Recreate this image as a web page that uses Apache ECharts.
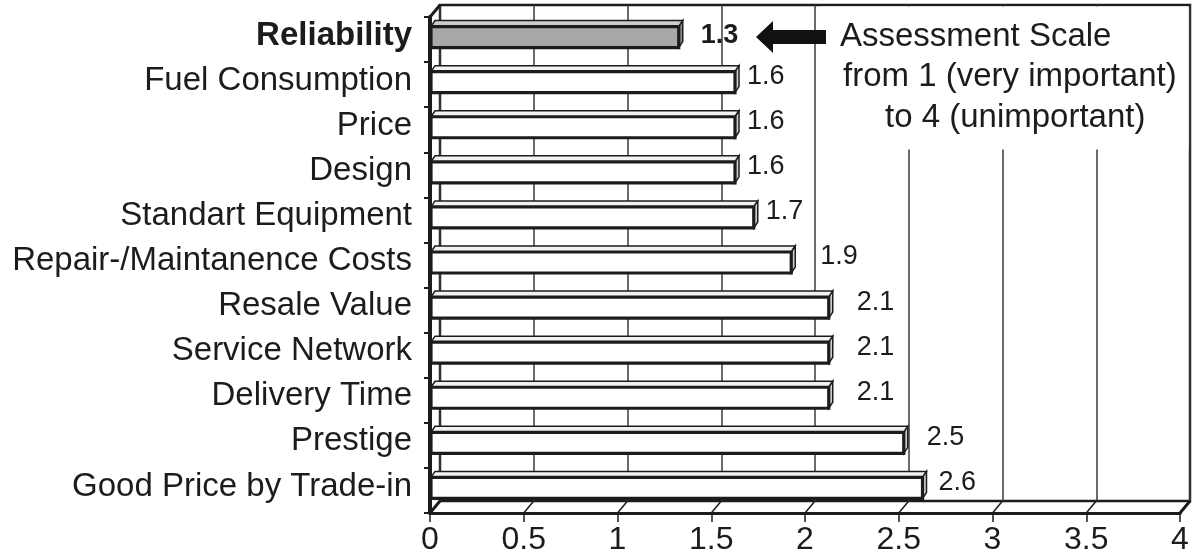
<!DOCTYPE html>
<html>
<head>
<meta charset="utf-8">
<script src="https://cdn.jsdelivr.net/npm/echarts@6/dist/echarts.min.js"></script>
<style>
  html, body { margin: 0; padding: 0; background: #ffffff; }
  #chart { width: 1192px; height: 557px; }
</style>
</head>
<body>
<div id="chart"></div>
<script>
// Purchase criteria, rated from 1 (very important) to 4 (unimportant)
const categories = [
  'Reliability', 'Fuel Consumption', 'Price', 'Design', 'Standart Equipment',
  'Repair-/Maintanence Costs', 'Resale Value', 'Service Network', 'Delivery Time',
  'Prestige', 'Good Price by Trade-in'
];
const ratings = [1.3, 1.6, 1.6, 1.6, 1.7, 1.9, 2.1, 2.1, 2.1, 2.5, 2.6];
const xTicks = [0, 0.5, 1, 1.5, 2, 2.5, 3, 3.5, 4];
const scaleNote = ['Assessment Scale', 'from 1 (very important)', 'to 4 (unimportant)'];
// extra gap between each bar's end and its value label
const labelPad = [18, 8, 8, 8, 8, 25, 24, 24, 24, 19, 12];

const FONT = '"Liberation Sans", Arial, Helvetica, sans-serif';
const INK = '#1c1c1c';
const DEPTH_X = 10, DEPTH_Y = -12;   // depth of the box (front plane -> back wall)
const BAR_DX = 4, BAR_DY = -6;       // depth of each bar
const BAR_SHIFT = 5;                 // bars sit half-way into the box
const BAR_H = 21;

const chart = echarts.init(document.getElementById('chart'), null, { renderer: 'canvas' });

function renderBar(params, api) {
  const i = params.dataIndex;
  const v = api.value(0);
  const start = api.coord([0, i]);
  const end = api.coord([v, i]);
  const yc = start[1] - 2.5;
  const top = yc - BAR_H / 2;
  const bot = yc + BAR_H / 2;
  const xl = start[0] + 1;
  const xr = end[0] + BAR_SHIFT;
  const hl = i === 0;
  const face = hl ? '#a8a8a8' : '#ffffff';
  const lid = hl ? '#cdcdcd' : '#f2f2f2';
  const side = hl ? '#8c8c8c' : '#cfcfcf';
  return {
    type: 'group',
    children: [
      {
        type: 'polygon',
        shape: { points: [[xl, top], [xr, top], [xr + BAR_DX, top + BAR_DY], [xl + BAR_DX, top + BAR_DY]] },
        style: { fill: lid, stroke: INK, lineWidth: 1.5 }
      },
      {
        type: 'polygon',
        shape: { points: [[xr, top], [xr + BAR_DX, top + BAR_DY], [xr + BAR_DX, bot + BAR_DY], [xr, bot]] },
        style: { fill: side, stroke: INK, lineWidth: 1.5 }
      },
      {
        type: 'rect',
        shape: { x: xl, y: top, width: xr - xl, height: BAR_H },
        style: { fill: face, stroke: INK, lineWidth: 3.2 }
      },
      {
        type: 'text',
        style: {
          text: v.toFixed(1),
          x: xr + BAR_DX + labelPad[i],
          y: start[1] - (hl ? 4 : 8),
          fontFamily: FONT,
          fontSize: 27,
          fontWeight: hl ? 'bold' : 'normal',
          fill: INK,
          align: 'left',
          verticalAlign: 'middle'
        }
      }
    ]
  };
}

function renderFloor(params, api) {
  const cs = params.coordSys;
  const x = api.coord([api.value(0), 0])[0];
  const yb = cs.y + cs.height;
  const last = params.dataIndex === xTicks.length - 1;
  const children = [{
    type: 'line',
    shape: { x1: x, y1: yb, x2: x + DEPTH_X, y2: yb + DEPTH_Y },
    style: { stroke: INK, lineWidth: last ? 3 : 1.5 }
  }];
  if (params.dataIndex === 0) {
    children.push({
      type: 'line',
      shape: { x1: cs.x, y1: cs.y, x2: cs.x + DEPTH_X, y2: cs.y + DEPTH_Y },
      style: { stroke: INK, lineWidth: 3 }
    });
    children.push({
      type: 'line',
      shape: { x1: cs.x, y1: yb, x2: cs.x + DEPTH_X, y2: yb + DEPTH_Y },
      style: { stroke: INK, lineWidth: 3 }
    });
  }
  return { type: 'group', children };
}

const option = {
  animation: false,
  backgroundColor: '#ffffff',
  textStyle: { fontFamily: FONT },
  grid: [
    // front plane: holds the axes and the bars
    { left: 430, right: 12, top: 17, bottom: 44, containLabel: false },
    // back wall with the grid lines
    { left: 440, right: 2, top: 5, bottom: 56, containLabel: false,
      show: true, borderColor: INK, borderWidth: 2.5, backgroundColor: 'transparent' }
  ],
  xAxis: [
    {
      gridIndex: 0, type: 'value', min: 0, max: 4, interval: 0.5,
      axisLine: { show: true, onZero: false, lineStyle: { color: INK, width: 3 } },
      axisTick: { show: true, length: 9, lineStyle: { color: INK, width: 1.5 } },
      axisLabel: { fontFamily: FONT, fontSize: 32, color: INK, margin: 11,
        formatter: v => String(xTicks[xTicks.indexOf(v)]) },
      splitLine: { show: false }
    },
    {
      gridIndex: 1, type: 'value', min: 0, max: 4, interval: 0.5,
      axisLine: { show: false },
      axisTick: { show: false },
      axisLabel: { show: false },
      splitLine: { show: true, lineStyle: { color: '#3a3a3a', width: 1.5 } }
    }
  ],
  yAxis: [
    {
      gridIndex: 0, type: 'category', data: categories, inverse: true,
      axisLine: { show: true, onZero: false, lineStyle: { color: INK, width: 4 } },
      axisTick: { show: true, length: 6, lineStyle: { color: INK, width: 2 } },
      axisLabel: {
        fontFamily: FONT, fontSize: 33, color: INK, margin: 18,
        padding: [0, 0, 8, 0],
        formatter: (val, idx) => idx === 0 ? '{b|' + val + '}' : val,
        rich: { b: { fontFamily: FONT, fontSize: 33, fontWeight: 'bold', color: INK } }
      },
      splitLine: { show: false }
    },
    {
      gridIndex: 1, type: 'category', data: categories, inverse: true,
      axisLine: { show: false }, axisTick: { show: false }, axisLabel: { show: false },
      splitLine: { show: false }
    }
  ],
  series: [
    {
      type: 'custom',
      name: 'floor',
      xAxisIndex: 0, yAxisIndex: 0,
      renderItem: renderFloor,
      data: xTicks.map(v => [v, 0]),
      encode: { x: 0, y: 1 },
      clip: false,
      silent: true,
      z: 3
    },
    {
      type: 'custom',
      name: 'Rating',
      xAxisIndex: 0, yAxisIndex: 0,
      renderItem: renderBar,
      data: ratings.map((v, i) => [v, i]),
      encode: { x: 0, y: 1 },
      clip: false,
      z: 4
    }
  ]
};

chart.setOption(option);

// Note on the scale, pointing at the top criterion
const anchor = chart.convertToPixel({ xAxisIndex: 0, yAxisIndex: 0 }, [2, 0]);
const backRight = chart.convertToPixel({ xAxisIndex: 1, yAxisIndex: 1 }, [4, 0])[0];
const backTop = 5;
const ax = anchor[0], cy = anchor[1] - 2.5;
const tipX = ax - 49, baseX = ax - 32, endX = ax + 21;

chart.setOption({
  graphic: [
    {
      type: 'rect', z: 10, silent: true,
      shape: { x: ax + 16, y: backTop + 1.5, width: backRight - 1.5 - (ax + 16), height: 143 },
      style: { fill: '#ffffff' }
    },
    {
      type: 'polygon', z: 11, silent: true,
      shape: { points: [[tipX, cy], [baseX, cy - 16], [baseX, cy - 7], [endX, cy - 7],
                        [endX, cy + 7], [baseX, cy + 7], [baseX, cy + 16]] },
      style: { fill: '#111111' }
    },
    {
      type: 'text', z: 11, silent: true,
      style: { text: scaleNote[0], x: ax + 35, y: cy, fontFamily: FONT, fontSize: 33,
               fill: INK, align: 'left', verticalAlign: 'middle' }
    },
    {
      type: 'text', z: 11, silent: true,
      style: { text: scaleNote[1], x: ax + 38, y: cy + 40, fontFamily: FONT, fontSize: 33,
               fill: INK, align: 'left', verticalAlign: 'middle' }
    },
    {
      type: 'text', z: 11, silent: true,
      style: { text: scaleNote[2], x: ax + 80, y: cy + 81, fontFamily: FONT, fontSize: 33,
               fill: INK, align: 'left', verticalAlign: 'middle' }
    }
  ]
});
</script>
</body>
</html>
